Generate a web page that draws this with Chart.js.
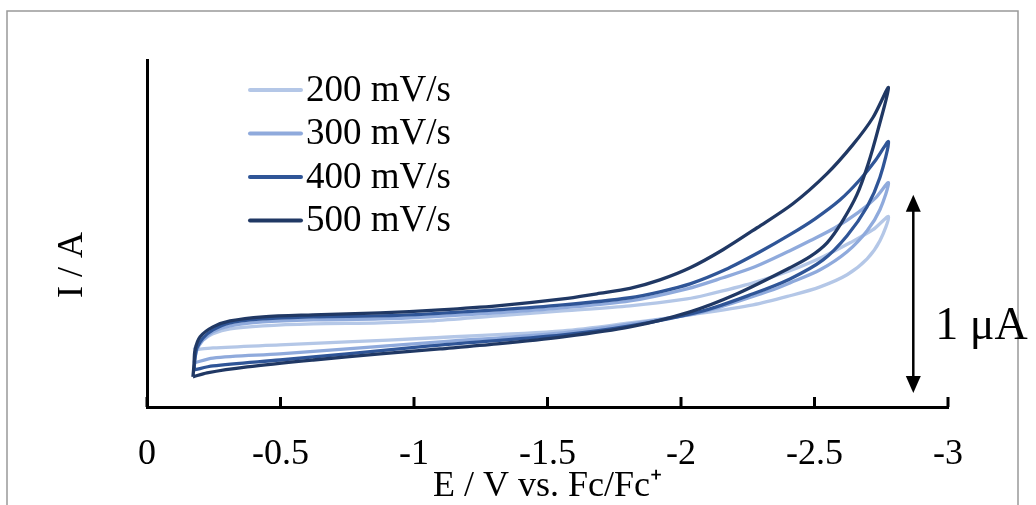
<!DOCTYPE html>
<html>
<head>
<meta charset="utf-8">
<script src="https://cdn.jsdelivr.net/npm/chart.js@4/dist/chart.umd.min.js"></script>
<style>
  html, body { margin: 0; padding: 0; background: #fff; }
  #wrap { width: 1036px; height: 505px; position: relative; }
</style>
</head>
<body>
<div id="wrap"><canvas id="cv"></canvas></div>
<script>
// Cyclic voltammograms at four scan rates. E in V vs. Fc/Fc+, I in µA.
// Each loop: lower branch out to the vertex, then the upper branch back.
const seriesLabels = ['200 mV/s', '300 mV/s', '400 mV/s', '500 mV/s'];
const seriesColors = ['#b4c7e7', '#8faadc', '#2f5597', '#203864'];

const E_200 = [-0.176, -0.247, -0.498, -0.749, -1.060, -1.558, -1.809, -2.034, -2.270, -2.408, -2.521, -2.622, -2.697, -2.745, -2.777,
               -2.719, -2.633, -2.532, -2.408, -2.270, -2.097, -2.022, -1.809, -1.558, -1.311, -1.060, -0.873, -0.622, -0.434, -0.311, -0.247, -0.210, -0.187, -0.176];
const I_200 = [0.288, 0.298, 0.313, 0.328, 0.348, 0.384, 0.424, 0.465, 0.515, 0.561, 0.606, 0.667, 0.747, 0.838, 0.960,
               0.894, 0.828, 0.758, 0.687, 0.626, 0.566, 0.545, 0.510, 0.485, 0.460, 0.434, 0.424, 0.419, 0.409, 0.394, 0.369, 0.338, 0.313, 0.288];

const E_300 = [-0.176, -0.247, -0.498, -0.749, -1.097, -1.558, -1.809, -2.082, -2.333, -2.408, -2.521, -2.622, -2.697, -2.745, -2.777,
               -2.730, -2.663, -2.577, -2.483, -2.408, -2.277, -2.157, -2.022, -1.809, -1.558, -1.311, -1.060, -0.873, -0.622, -0.434, -0.311, -0.247, -0.210, -0.187, -0.176];
const I_300 = [0.222, 0.247, 0.268, 0.293, 0.328, 0.374, 0.419, 0.480, 0.586, 0.626, 0.692, 0.783, 0.889, 0.995, 1.131,
               1.056, 0.980, 0.904, 0.838, 0.788, 0.707, 0.652, 0.596, 0.535, 0.500, 0.475, 0.455, 0.444, 0.439, 0.429, 0.409, 0.379, 0.338, 0.288, 0.222];

const E_400 = [-0.176, -0.247, -0.498, -0.749, -1.060, -1.558, -1.809, -2.082, -2.270, -2.408, -2.532, -2.622, -2.697, -2.745, -2.777,
               -2.730, -2.670, -2.596, -2.502, -2.408, -2.296, -2.165, -2.034, -1.921, -1.809, -1.558, -1.311, -1.060, -0.873, -0.622, -0.434, -0.311, -0.247, -0.210, -0.187, -0.180, -0.176];
const I_400 = [0.187, 0.207, 0.237, 0.268, 0.308, 0.364, 0.409, 0.485, 0.571, 0.646, 0.742, 0.864, 1.010, 1.157, 1.338,
               1.247, 1.146, 1.045, 0.949, 0.869, 0.783, 0.692, 0.621, 0.581, 0.551, 0.515, 0.490, 0.470, 0.460, 0.455, 0.444, 0.424, 0.389, 0.348, 0.298, 0.247, 0.187];

const E_500 = [-0.172, -0.225, -0.375, -0.622, -0.873, -1.097, -1.311, -1.558, -1.809, -2.034, -2.210, -2.408, -2.483, -2.547, -2.603, -2.659, -2.700, -2.738, -2.777,
               -2.719, -2.644, -2.547, -2.419, -2.285, -2.157, -2.034, -1.921, -1.809, -1.685, -1.558, -1.311, -1.097, -0.873, -0.622, -0.434, -0.311, -0.247, -0.199, -0.180, -0.176, -0.172];
const I_500 = [0.152, 0.172, 0.202, 0.237, 0.268, 0.293, 0.318, 0.354, 0.404, 0.480, 0.571, 0.702, 0.758, 0.828, 0.934, 1.071, 1.222, 1.399, 1.611,
               1.460, 1.323, 1.177, 1.025, 0.904, 0.793, 0.702, 0.641, 0.598, 0.571, 0.545, 0.510, 0.490, 0.475, 0.465, 0.455, 0.434, 0.404, 0.354, 0.288, 0.212, 0.152];

const xTickValues = [0, -0.5, -1, -1.5, -2, -2.5, -3];
const xTickLabels = ['0', '-0.5', '-1', '-1.5', '-2', '-2.5', '-3'];

// Scale bar: 1 µA drawn at a fixed potential
const scaleBarE = -2.87;
const scaleBarBase = 0.07;
const scaleBarSpan = 1;
const scaleBarLabel = '1 μA';

const SERIF = '"Liberation Serif", "Times New Roman", serif';

function pairs(E, I) { return E.map((e, k) => ({ x: e, y: I[k] })); }

const curves = [[E_200, I_200], [E_300, I_300], [E_400, I_400], [E_500, I_500]];
const datasets = curves.map((c, i) => ({
  label: seriesLabels[i],
  data: pairs(c[0], c[1]),
  borderColor: seriesColors[i],
  backgroundColor: seriesColors[i],
  borderWidth: 3.3,
  pointRadius: 0,
  showLine: true,
  fill: false,
  tension: 0.3,
  borderJoinStyle: 'round',
  order: curves.length - i
}));

const decorations = {
  id: 'decorations',
  beforeDraw(chart) {
    const ctx = chart.ctx;
    ctx.save();
    ctx.fillStyle = '#fff';
    ctx.fillRect(0, 0, chart.width, chart.height);
    ctx.strokeStyle = '#999';
    ctx.lineWidth = 1.5;
    ctx.strokeRect(7, 11, 1011, 520);
    ctx.restore();
  },
  afterDraw(chart) {
    const ctx = chart.ctx;
    const xs = chart.scales.x, ys = chart.scales.y;
    const area = chart.chartArea;
    ctx.save();

    // inward tick marks on the potential axis
    ctx.strokeStyle = '#000';
    ctx.lineWidth = 3;
    xTickValues.forEach(v => {
      const px = xs.getPixelForValue(v);
      ctx.beginPath();
      ctx.moveTo(px, area.bottom);
      ctx.lineTo(px, area.bottom - 10);
      ctx.stroke();
    });

    // legend
    ctx.font = '37px ' + SERIF;
    ctx.textBaseline = 'middle';
    ctx.textAlign = 'left';
    chart.data.datasets.forEach((ds, i) => {
      const y = 90 + i * 43.5;
      ctx.strokeStyle = ds.borderColor;
      ctx.lineWidth = 4;
      ctx.lineCap = 'round';
      ctx.beginPath();
      ctx.moveTo(250, y);
      ctx.lineTo(301, y);
      ctx.stroke();
      ctx.fillStyle = '#000';
      ctx.fillText(ds.label, 306, y + 1);
    });

    // current scale bar
    const bx = xs.getPixelForValue(scaleBarE);
    const yb = ys.getPixelForValue(scaleBarBase);
    const yt = ys.getPixelForValue(scaleBarBase + scaleBarSpan);
    ctx.strokeStyle = '#000';
    ctx.fillStyle = '#000';
    ctx.lineWidth = 2.5;
    ctx.lineCap = 'butt';
    ctx.beginPath();
    ctx.moveTo(bx, yt + 12);
    ctx.lineTo(bx, yb - 12);
    ctx.stroke();
    ctx.beginPath();
    ctx.moveTo(bx, yt); ctx.lineTo(bx - 7.5, yt + 17); ctx.lineTo(bx + 7.5, yt + 17); ctx.closePath();
    ctx.fill();
    ctx.beginPath();
    ctx.moveTo(bx, yb); ctx.lineTo(bx - 7.5, yb - 17); ctx.lineTo(bx + 7.5, yb - 17); ctx.closePath();
    ctx.fill();
    ctx.font = '46px ' + SERIF;
    ctx.textBaseline = 'alphabetic';
    ctx.textAlign = 'left';
    ctx.fillText(scaleBarLabel, bx + 22, (yb + yt) / 2 + 45);

    // current axis title
    ctx.font = '36px ' + SERIF;
    ctx.translate(73, 265);
    ctx.rotate(-Math.PI / 2);
    ctx.textAlign = 'center';
    ctx.textBaseline = 'middle';
    ctx.fillText('I / A', 0, 0);
    ctx.restore();
  }
};

new Chart(document.getElementById('cv'), {
  type: 'scatter',
  data: { datasets },
  options: {
    responsive: true,
    maintainAspectRatio: false,
    animation: false,
    devicePixelRatio: 1,
    layout: { padding: { left: 0, top: 60, right: 88, bottom: 0 } },
    plugins: { legend: { display: false }, tooltip: { enabled: false } },
    scales: {
      x: {
        type: 'linear',
        reverse: true,
        min: -3,
        max: 0,
        afterBuildTicks: s => { s.ticks = xTickValues.map(v => ({ value: v })); },
        afterFit: s => { s.height = 98; },
        grid: { display: false, drawTicks: false },
        border: { display: true, width: 3, color: '#000' },
        ticks: {
          padding: 26,
          maxRotation: 0,
          autoSkip: false,
          color: '#000',
          font: { family: SERIF, size: 36 },
          callback: v => xTickLabels[xTickValues.indexOf(v)]
        },
        title: {
          display: true,
          text: 'E / V vs. Fc/Fc⁺',
          color: '#000',
          font: { family: SERIF, size: 36, lineHeight: 1 },
          padding: { top: 0, bottom: 0 }
        }
      },
      y: {
        type: 'linear',
        min: 0,
        max: 1.75,
        afterFit: s => { s.width = 147; },
        ticks: { display: false },
        grid: { display: false, drawTicks: false },
        border: { display: true, width: 3, color: '#000' }
      }
    }
  },
  plugins: [decorations]
});
</script>
</body>
</html>
